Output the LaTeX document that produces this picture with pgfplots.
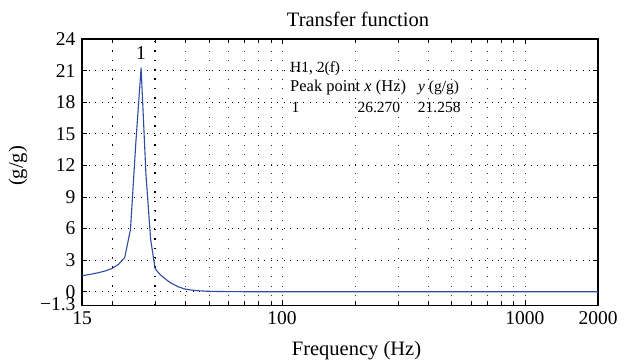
\documentclass[border=0pt]{standalone}
\usepackage{fontspec}
\setmainfont{Liberation Serif}
\usepackage{pgfplots}
\pgfplotsset{compat=1.18}
\definecolor{curve}{RGB}{45,75,160}
\begin{document}
\begin{tikzpicture}
\begin{axis}[
  at={(0,0)}, anchor=south west,
  scale only axis, width=516pt, height=266.4pt,
  xmode=log, xmin=15, xmax=2000, ymin=-1.3, ymax=24,
  xtick={15,100,1000,2000}, xticklabels={15,100,1000,2000},
  minor xtick={20,30,40,50,60,70,80,90,200,300,400,500,600,700,800,900},
  ytick={-1.3,0,3,6,9,12,15,18,21,24},
  yticklabels={\raisebox{3.5pt}{−1.3},0,3,6,9,12,15,18,21,24},
  /pgf/number format/assume math mode=true,
  ticklabel style={font=\fontsize{19.5}{22}\selectfont},
  yticklabel style={xshift=-3pt},
  xticklabel style={yshift=-3pt},
  tick align=inside,
  major tick length=5pt, minor tick length=4pt,
  every tick/.style={black, line width=0.8pt},
  axis line style={black, line width=1.1pt},
  grid=both,
  major y grid style={black, line width=0.7pt, dash pattern=on 0.7pt off 5.8pt},
  major x grid style={black!80, line width=0.7pt, dash pattern=on 0.7pt off 8.7pt},
  minor x grid style={black!80, line width=0.7pt, dash pattern=on 0.7pt off 8.7pt},
  extra x ticks={20,30},
  extra x tick labels={},
  extra x tick style={grid=major, major tick length=4pt, major x grid style={black, line width=1.3pt, dash pattern=on 1.3pt off 8.1pt}},
  every axis title shift=0pt,
  title={Transfer function},
  title style={font=\fontsize{20.5}{24}\selectfont, at={(axis description cs:0.535,1)}, anchor=center, yshift=20pt},
  xlabel={Frequency (Hz)},
  xlabel style={font=\fontsize{20.5}{24}\selectfont, at={(axis description cs:0.532,0)}, anchor=center, yshift=-45pt},
  ylabel={(g/g)},
  ylabel style={font=\fontsize{20.5}{24}\selectfont, at={(axis description cs:-0.124,0.523)}, anchor=center},
]
\addplot[curve, line width=1.1pt, line join=round] coordinates {
(15,1.52) (16.25,1.65) (17.5,1.80) (18.75,1.98) (20,2.22) (21.25,2.62)
(22.5,3.25) (23.75,5.9) (25,14.2) (26.27,21.258) (27.5,11.2) (28.75,5.0)
(30,2.2) (31.25,1.7) (32.5,1.35) (33.75,1.05) (35,0.8) (37.5,0.45)
(40,0.24) (42.5,0.15) (45,0.09) (50,0.04) (55,0.02) (60,0.01) (70,0)
(100,0) (2000,0)
};
\node[font=\fontsize{19.5}{22}\selectfont] at (axis cs:26.27,22.7) {1};
\end{axis}
\begin{scope}[every node/.style={font=\fontsize{15.5}{18}\selectfont, anchor=west, inner sep=0pt}]
\node at (208pt,236.4pt) {H1, 2(f)};
\node at (208pt,217.7pt) {\fontsize{16.5}{18}\selectfont Peak point \textit{x} (Hz)};
\node at (336pt,217.7pt) {\textit{y} (g/g)};
\node at (209.5pt,198.1pt) {1};
\node at (275.3pt,198.1pt) {26.270};
\node at (335.7pt,198.1pt) {21.258};
\end{scope}
\pgfresetboundingbox
\path (-82pt,-57.6pt) rectangle (548pt,305.4pt);
\end{tikzpicture}
\end{document}
